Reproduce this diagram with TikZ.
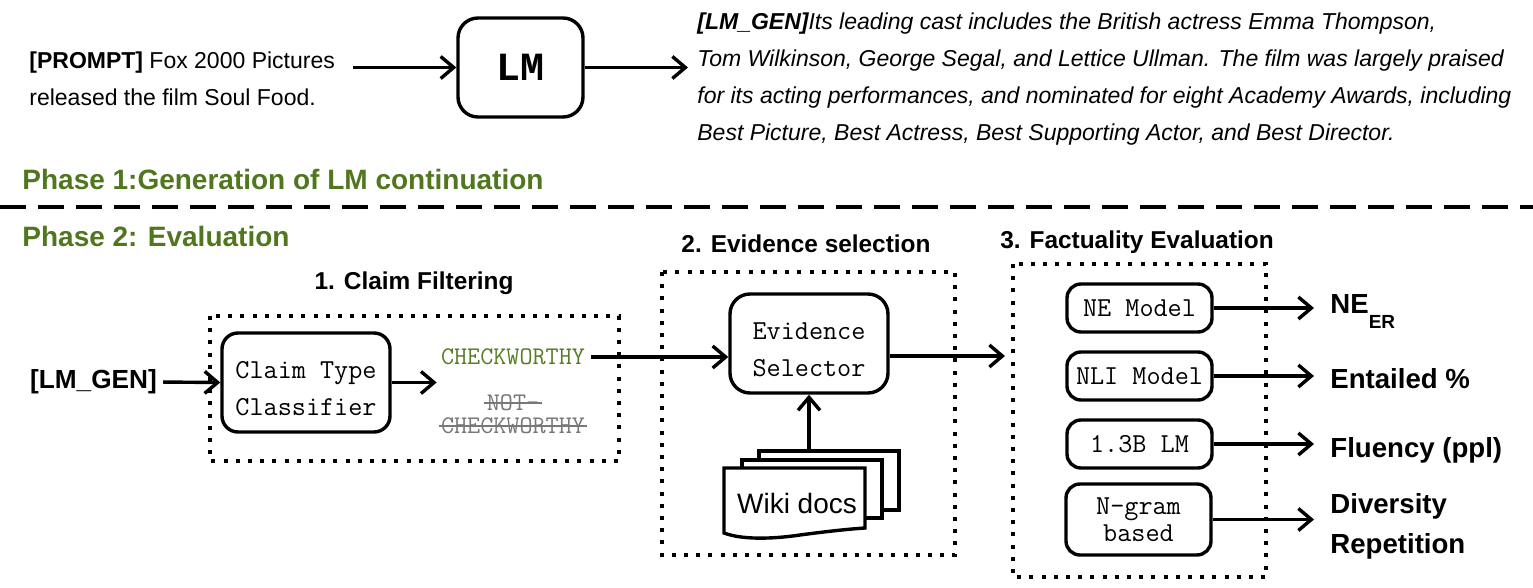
\documentclass[tikz,border=0pt]{standalone}
\usepackage{fontspec}
\setmainfont{Liberation Sans}
\newfontfamily\courfont{Liberation Mono}
\usetikzlibrary{arrows.meta}
\definecolor{phasegreen}{RGB}{80,118,30}
\definecolor{checkgreen}{RGB}{85,125,35}
\definecolor{notgrey}{RGB}{120,120,120}
\begin{document}
\begin{tikzpicture}[x=0.5pt,y=-0.5pt,
  every node/.style={inner sep=0pt},
  rbox/.style={draw, line width=1.7pt, align=center, fill=white,
    font=\ttfamily\fontsize{13.7}{18.5}\selectfont},
  arr/.style={line width=1.7pt, -{Straight Barb[length=6.5pt,width=11pt]}},
  dotbox/.style={line width=2pt, dash pattern=on 2pt off 4.1pt},
  phase/.style={font=\bfseries\fontsize{14}{17}\selectfont, text=phasegreen, anchor=base west},
  secttitle/.style={font=\bfseries\fontsize{12.2}{15}\selectfont},
  metric/.style={font=\bfseries\fontsize{13.8}{20}\selectfont, anchor=west, align=left, inner xsep=8pt},
  docline/.style={line width=1.7pt, fill=white},
  notcw/.style={font=\ttfamily\fontsize{12.7}{15}\selectfont, text=notgrey},
  strike/.style={draw=notgrey, line width=0.8pt}
]
\useasboundingbox (0,0) rectangle (1533,588);

% ---------- Phase 1 ----------
\node[anchor=base west, align=left, font=\fontsize{11.5}{18.5}\selectfont] (prompt) at (29,106)
  {\textbf{[PROMPT]} Fox 2000 Pictures\\released the film Soul Food.};
\node[rbox, rounded corners=10pt, minimum width=62.5pt, minimum height=49.5pt,
  font=\courfont\bfseries\fontsize{20}{24}\selectfont] (lm) at (520.5,67.5) {LM};
\coordinate (pstart) at (353,67.5);
\draw[arr] (pstart) -- (lm.west);
\node[anchor=base west, align=left, font=\itshape\fontsize{11.5}{18.5}\selectfont] (gen) at (697,141)
  {\textbf{[LM\_GEN]}Its leading cast includes the British actress Emma Thompson,\\
   Tom Wilkinson, George Segal, and Lettice Ullman. The film was largely praised\\
   for its acting performances, and nominated for eight Academy Awards, including\\
   Best Picture, Best Actress, Best Supporting Actor, and Best Director.};
\draw[arr] (lm.east) -- ([xshift=-4.5pt]lm.east -| gen.west);

\node[phase] (ph1) at (22,190) {Phase 1:Generation of LM continuation};
\draw[line width=1.6pt, dash pattern=on 13pt off 6pt] (0,207) -- (1533,207);

% ---------- Phase 2 ----------
\node[phase] (ph2) at (22,247) {Phase 2: Evaluation};

\node[secttitle] (t1) at (414,283) {1. Claim Filtering};
\node[secttitle] (t2) at (806,244) {2. Evidence selection};
\node[secttitle] (t3) at (1137,242) {3. Factuality Evaluation};

\draw[dotbox] (210,316) rectangle (619,461);
\draw[dotbox] (662,272) rectangle (955,555);
\draw[dotbox] (1013,264) rectangle (1266,577);

% Claim filtering
\node[font=\bfseries\fontsize{13.1}{16}\selectfont] (in) at (93.5,382) {[LM\_GEN]};
\node[rbox, rounded corners=8pt, minimum width=84pt, minimum height=49.5pt] (ctc) at (306,382.5)
  {\rule{0pt}{14.5pt}Claim Type\\Classifier};
\draw[arr, shorten <=3pt] (in.east) -- (ctc.west);
\node[font=\ttfamily\fontsize{12.7}{15}\selectfont, text=checkgreen] (cw) at (513,357) {CHECKWORTHY};
\node[notcw] (ncw1) at (513,403) {NOT-};
\node[notcw] (ncw2) at (513,426) {CHECKWORTHY};
\draw[strike] ([xshift=-1pt]ncw1.west) -- ([xshift=1pt]ncw1.east);
\draw[strike] ([xshift=-1pt]ncw2.west) -- ([xshift=1pt]ncw2.east);
\draw[arr] (ctc.east) -- ([xshift=-2pt]ctc.east -| cw.west);

% Evidence selection
\node[rbox, rounded corners=10pt, minimum width=79pt, minimum height=49.5pt] (es) at (809,343.5)
  {\rule{0pt}{14.5pt}Evidence\\Selector};
\draw[arr, shorten <=3pt] (cw.east) -- (cw.east -| es.west);
\coordinate (fin) at (1005,356);
\draw[arr] (es.east |- fin) -- (fin);

\draw[docline] (759,451) rectangle (899,510);
\draw[docline] (742,460) rectangle (882,518);
\draw[docline] (724,468) -- (865,468) -- (865,528)
  .. controls (850,529) and (830,531) .. (800,535)
  .. controls (780,538) and (745,541) .. (724,533) -- cycle;
\node[font=\fontsize{14}{17}\selectfont] (wiki) at (797,503) {Wiki docs};
\coordinate (doctop) at (809,451);
\draw[arr] (doctop) -- (es.south);

% Factuality evaluation
\node[rbox, rounded corners=7pt, minimum width=72.5pt, minimum height=24pt] (ne) at (1139.5,308) {NE Model};
\node[rbox, rounded corners=7pt, minimum width=72.5pt, minimum height=24pt] (nli) at (1139.5,376) {NLI Model};
\node[rbox, rounded corners=7pt, minimum width=72.5pt, minimum height=24pt] (b13) at (1139.5,444) {1.3B LM};
\node[rbox, rounded corners=7pt, minimum width=72.5pt, minimum height=35.5pt,
  font=\ttfamily\fontsize{13.7}{13.5}\selectfont] (ng) at (1138.5,519.5) {N-gram\\based};

\node[metric, anchor=base west] (m1) at (1314,314) {NE\raisebox{-7.5pt}{\fontsize{9.5}{9.5}\selectfont ER}};
\node[metric] (m2) at (1314,379) {Entailed \%};
\node[metric] (m3) at (1314,450) {Fluency (ppl)};
\node[metric] (m4) at (1314,526) {Diversity\\Repetition};

\draw[arr] (ne.east) -- (ne.east -| m1.west);
\draw[arr] (nli.east) -- (nli.east -| m2.west);
\draw[arr] (b13.east) -- (b13.east -| m3.west);
\draw[arr] (ng.east) -- (ng.east -| m4.west);
\end{tikzpicture}
\end{document}
